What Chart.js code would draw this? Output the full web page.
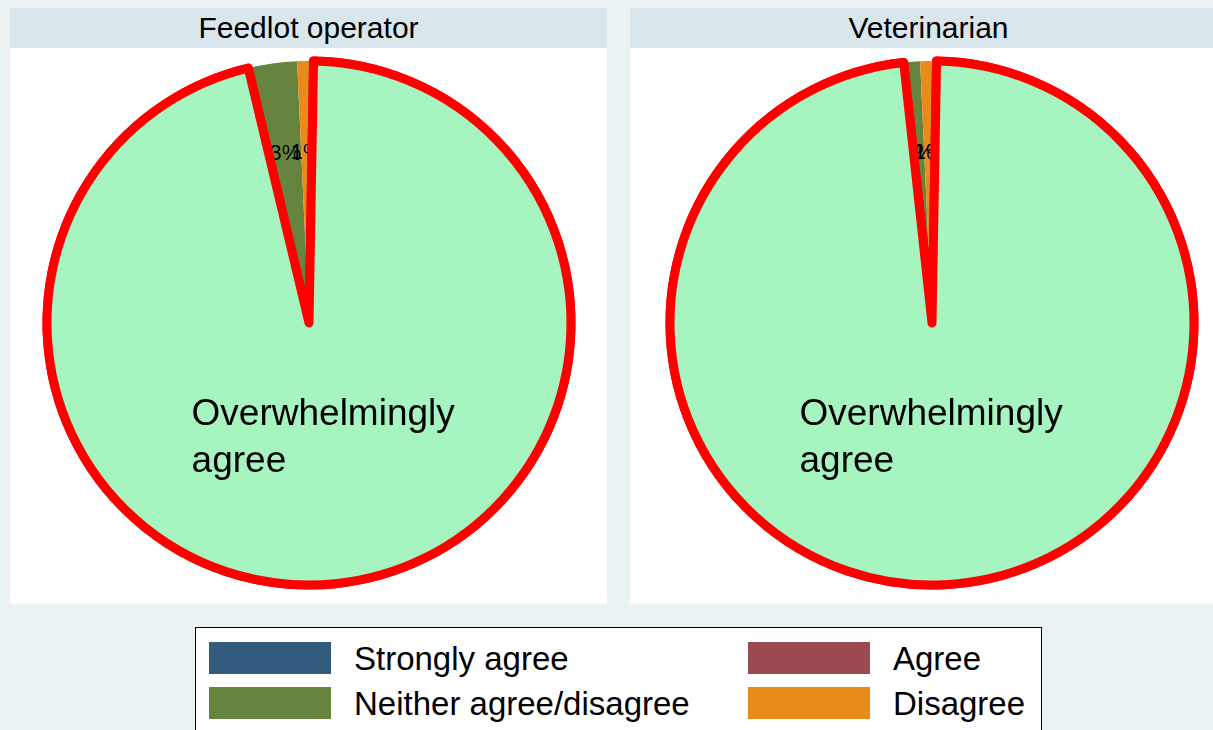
<!DOCTYPE html>
<html>
<head>
<meta charset="utf-8">
<script src="https://cdn.jsdelivr.net/npm/chart.js@4.4.1/dist/chart.umd.min.js"></script>
<style>
body { margin: 0; width: 1213px; height: 730px; overflow: hidden; position: relative;
       background: #eaf2f3; font-family: "Liberation Sans", Arial, sans-serif; }
.panel { position: absolute; top: 8px; width: 597px; height: 596px; background: #fff; }
.strip { height: 40px; line-height: 40px; background: #d9e6eb; text-align: center; font-size: 30px; color: #000; }
.panel canvas { position: absolute; left: 0; top: 40px; }
#legend { position: absolute; left: 195px; top: 627px; width: 845px; height: 130px;
          border: 1px solid #000; background: #fff; }
.item { position: absolute; height: 32px; }
.sw { position: absolute; left: 0; top: 0; width: 122px; height: 32px; }
.lab { position: absolute; left: 145px; top: 1px; line-height: 32px; font-size: 33px; white-space: nowrap; color: #000; }
</style>
</head>
<body>
<div class="panel" style="left:10px"><div class="strip" id="t0"></div><canvas id="pie0" width="597" height="556"></canvas></div>
<div class="panel" style="left:630px"><div class="strip" id="t1"></div><canvas id="pie1" width="597" height="556"></canvas></div>
<div id="legend"></div>
<script>
// categories (last one is the highlighted slice, not in the legend)
const categories = ['Strongly agree', 'Agree', 'Neither agree/disagree', 'Disagree', 'Overwhelmingly agree'];
const panels = ['Feedlot operator', 'Veterinarian'];
// percent of respondents
const feedlotValues = [0, 0, 3, 1, 96];
const vetValues = [0, 0, 1, 1, 98];
const colors = ['#335b7e', '#9b4a51', '#67843f', '#e88b1b', '#a6f5c1'];
const bigIndex = 4;
const bigLabel = ['Overwhelmingly', 'agree'];

const font = '"Liberation Sans", Arial, sans-serif';

const sliceLabels = {
    id: 'sliceLabels',
    afterDatasetsDraw(chart, args, opts) {
        const ctx = chart.ctx;
        const meta = chart.getDatasetMeta(0);
        const vals = chart.data.datasets[0].data;
        const total = vals.reduce((a, b) => a + b, 0);
        ctx.save();
        ctx.fillStyle = '#000';
        ctx.textAlign = 'center';
        ctx.textBaseline = 'middle';
        ctx.font = '22px ' + font;
        meta.data.forEach((arc, i) => {
            if (i === bigIndex || !vals[i]) return;
            const p = arc.getProps(['x', 'y', 'startAngle', 'endAngle', 'outerRadius']);
            const a = (p.startAngle + p.endAngle) / 2;
            const r = p.outerRadius * 0.65;
            ctx.fillText(Math.round(vals[i] / total * 100) + '%', p.x + Math.cos(a) * r, p.y + Math.sin(a) * r);
        });
        ctx.restore();

        // highlighted slice goes on top of the small labels
        meta.data[bigIndex].draw(ctx);

        const p = meta.data[bigIndex].getProps(['x', 'y', 'startAngle', 'endAngle', 'outerRadius']);
        const a = (p.startAngle + p.endAngle) / 2;
        const r = p.outerRadius * 0.43;
        const cx = p.x + Math.cos(a) * r + (opts.dx || 0), cy = p.y + Math.sin(a) * r + 3;
        ctx.save();
        ctx.font = '37px ' + font;
        ctx.fillStyle = '#000';
        ctx.textBaseline = 'middle';
        ctx.textAlign = 'left';
        const w = Math.max(...bigLabel.map(s => ctx.measureText(s).width));
        const lh = 47;
        bigLabel.forEach((s, i) => {
            ctx.fillText(s, cx - w / 2, cy + (i - (bigLabel.length - 1) / 2) * lh);
        });
        ctx.restore();
    }
};

function makePie(id, values, padLeft, labelDx) {
    const total = values.reduce((a, b) => a + b, 0);
    const small = values.filter((v, i) => i !== bigIndex).reduce((a, b) => a + b, 0);
    new Chart(document.getElementById(id), {
        type: 'pie',
        data: {
            labels: categories,
            datasets: [{
                data: values,
                backgroundColor: colors,
                borderColor: categories.map((c, i) => i === bigIndex ? '#ff0000' : 'rgba(0,0,0,0)'),
                borderWidth: categories.map((c, i) => i === bigIndex ? 9 : 0),
                borderJoinStyle: 'round'
            }]
        },
        options: {
            responsive: false,
            animation: false,
            radius: 262,
            rotation: -360 * small / total + 1,
            layout: { padding: { left: padLeft, bottom: 6 } },
            plugins: {
                legend: { display: false },
                tooltip: { enabled: false },
                sliceLabels: { dx: labelDx }
            }
        },
        plugins: [sliceLabels]
    });
}

document.getElementById('t0').textContent = panels[0];
document.getElementById('t1').textContent = panels[1];
makePie('pie0', feedlotValues, 1, 2);
makePie('pie1', vetValues, 7, -6);

// legend (2 x 2), highlighted slice left out
const legend = document.getElementById('legend');
const pos = [[13, 14], [552, 14], [13, 59], [552, 59]];
categories.slice(0, 4).forEach((c, i) => {
    const it = document.createElement('div');
    it.className = 'item';
    it.style.left = pos[i][0] + 'px';
    it.style.top = pos[i][1] + 'px';
    it.innerHTML = '<div class="sw" style="background:' + colors[i] + '"></div><div class="lab"></div>';
    it.querySelector('.lab').textContent = c;
    legend.appendChild(it);
});
</script>
</body>
</html>
